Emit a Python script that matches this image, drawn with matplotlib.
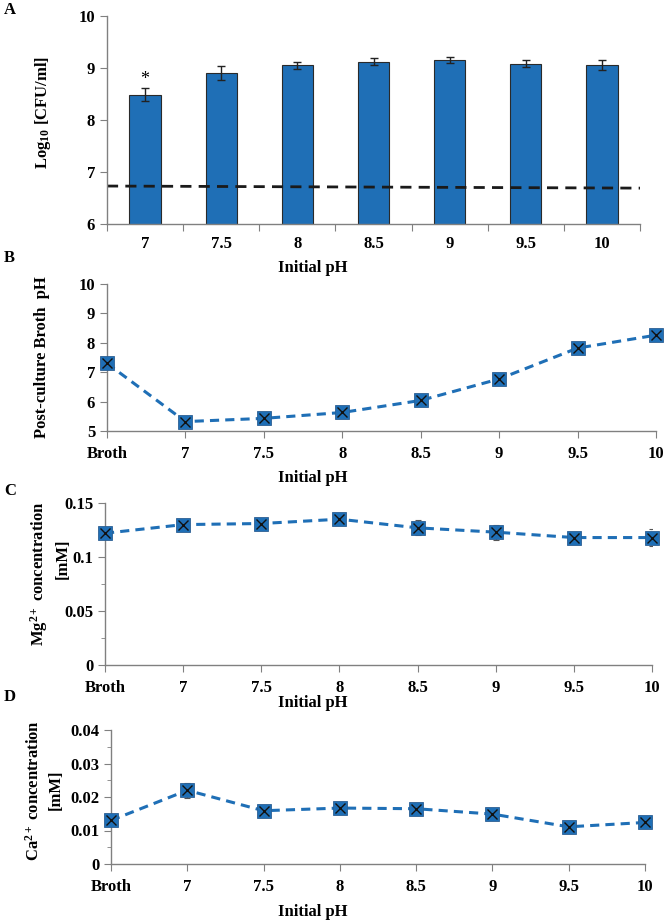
import numpy as np
import matplotlib.pyplot as plt
from matplotlib.ticker import MultipleLocator, FixedLocator

plt.rcParams['font.family'] = ['Liberation Serif', 'DejaVu Serif']
plt.rcParams['font.weight'] = 'bold'
plt.rcParams['mathtext.fontset'] = 'custom'
plt.rcParams['mathtext.rm'] = 'Liberation Serif:bold'
plt.rcParams['mathtext.bf'] = 'Liberation Serif:bold'
plt.rcParams['mathtext.it'] = 'Liberation Serif:bold'

# datos panel A
ph_inicial = ['7', '7.5', '8', '8.5', '9', '9.5', '10']
log_cfu = [8.49, 8.90, 9.05, 9.12, 9.16, 9.08, 9.06]
log_cfu_err = [0.13, 0.13, 0.06, 0.07, 0.06, 0.07, 0.10]
inoculo = [6.73, 6.69]  # linea discontinua (inicio, fin)

# datos paneles B-D
categorias = ['Broth'] + ph_inicial
ph_final = [7.30, 5.32, 5.43, 5.63, 6.04, 6.77, 7.82, 8.26]
mg = [0.122, 0.130, 0.131, 0.135, 0.127, 0.123, 0.118, 0.118]
mg_err = [0.002, 0.002, 0.002, 0.002, 0.007, 0.007, 0.003, 0.008]
ca = [0.0130, 0.0220, 0.0159, 0.0167, 0.0165, 0.0149, 0.0111, 0.0124]
ca_err = [0.0006, 0.0023, 0.0005, 0.0005, 0.0005, 0.0005, 0.0004, 0.0004]

azul = '#1F6FB6'
gris = '#808080'
W, H = 666, 924

fig = plt.figure(figsize=(W / 100, H / 100), dpi=100)


def ejes(l, t, r, b):
    # posicion en pixeles -> fraccion de figura
    return fig.add_axes([l / W, 1 - b / H, (r - l) / W, (b - t) / H])


def estilo(ax):
    for s in ['top', 'right']:
        ax.spines[s].set_visible(False)
    for s in ['left', 'bottom']:
        ax.spines[s].set_color(gris)
        ax.spines[s].set_linewidth(1)
    ax.tick_params(which='both', direction='out', color=gris, labelsize=12)
    ax.tick_params(which='major', length=5)
    ax.tick_params(which='minor', length=3)


# Panel A
axA = ejes(107, 16, 640, 224)
x = np.arange(len(ph_inicial))
axA.bar(x, log_cfu, width=0.41, color=azul, edgecolor='#2a2a2a', linewidth=0.8,
        yerr=log_cfu_err, error_kw=dict(ecolor='#222222', elinewidth=1, capsize=3, capthick=1))
axA.set_xlim(-0.5, len(x) - 0.5)
axA.set_ylim(6, 10)
axA.plot(axA.get_xlim(), inoculo, color='#1a1a1a', lw=2, ls=(0, (4, 2.6)))
axA.text(x[0], log_cfu[0] + log_cfu_err[0] + 0.16, '*', ha='center', va='center', fontsize=13,
         fontweight='normal')
estilo(axA)
axA.yaxis.set_major_locator(MultipleLocator(1))
axA.xaxis.set_major_locator(FixedLocator(np.arange(-0.5, len(x), 1)))
axA.xaxis.set_major_formatter(plt.NullFormatter())
axA.set_xticks(x, ph_inicial, minor=True)
axA.tick_params(axis='x', which='minor', length=0, pad=9, labelsize=12)


# Paneles B, C, D
def panel_linea(pos, vals, err, ylim, mayor, etiquetas_y, menor=None):
    ax = ejes(*pos)
    xs = np.arange(len(categorias))
    if err is not None:
        ax.errorbar(xs, vals, yerr=err, fmt='none', ecolor='#555555', elinewidth=0.8,
                    capsize=2.5, capthick=0.8, zorder=2)
    ax.plot(xs, vals, color=azul, lw=2.2, ls=(0, (3, 2)), marker='s', ms=9.5,
            mfc=azul, mec='#2c5f93', mew=0.6, clip_on=False, zorder=3)
    ax.plot(xs, vals, 'x', color='#111111', ms=7.5, mew=1, clip_on=False, zorder=4)
    ax.set_xlim(0, len(xs) - 1)
    ax.set_ylim(*ylim)
    estilo(ax)
    ax.set_xticks(xs, categorias)
    ax.set_yticks(mayor, etiquetas_y)
    if menor is not None:
        ax.set_yticks(menor, minor=True)
    ax.tick_params(axis='x', pad=6)
    return ax


axB = panel_linea((107, 284, 656, 431), ph_final, None, (5, 10),
                  [5, 6, 7, 8, 9, 10], ['5', '6', '7', '8', '9', '10'])
axC = panel_linea((105, 503, 652, 665), mg, mg_err, (0, 0.15),
                  [0, 0.05, 0.1, 0.15], ['0', '0.05', '0.1', '0.15'],
                  [0.025, 0.075, 0.125])
axD = panel_linea((111, 730, 645, 864), ca, ca_err, (0, 0.04),
                  [0, 0.01, 0.02, 0.03, 0.04], ['0', '0.01', '0.02', '0.03', '0.04'],
                  [0.005, 0.015, 0.025, 0.035])

# textos
for letra, yp in [('A', 10), ('B', 258), ('C', 491), ('D', 697)]:
    fig.text(4 / W, 1 - yp / H, letra, fontsize=12, va='center', ha='left')

for yp in [268, 478, 703, 912]:
    fig.text(313 / W, 1 - yp / H, 'Initial pH', fontsize=12, ha='center', va='center')


def etiqueta_y(xp, yp, texto):
    fig.text(xp / W, 1 - yp / H, texto, rotation=90, fontsize=12, ha='center', va='center')


etiqueta_y(43, 112, r'Log$_{10}$ [CFU/ml]')
etiqueta_y(42, 357, 'Post-culture Broth  pH')
etiqueta_y(39, 574, 'Mg$^{2+}$ concentration')
etiqueta_y(63, 559, '[mM]')
etiqueta_y(34, 791, 'Ca$^{2+}$ concentration')
etiqueta_y(56, 790, '[mM]')

fig.savefig('out.png', dpi=100)
